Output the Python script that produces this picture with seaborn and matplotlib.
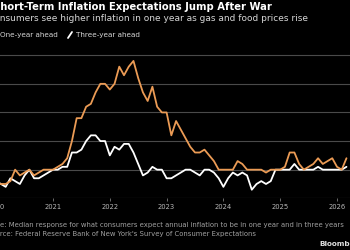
import matplotlib
matplotlib.use("Agg")
import matplotlib.pyplot as plt
from matplotlib.lines import Line2D
import seaborn as sns
import pandas as pd

sns.set_style("dark")

orange = "#eb9b55"
bg = "black"

# monthly survey, Jan 2020 - Mar 2026
months = pd.date_range("2020-01-01", "2026-03-01", freq="MS")

one_year = [
    2.5, 2.5, 2.5, 2.6, 3.0, 2.8, 2.9, 3.0, 2.8, 2.9, 3.0, 3.0,
    3.0, 3.1, 3.2, 3.4, 4.0, 4.8, 4.8, 5.2, 5.3, 5.7, 6.0, 6.0,
    5.8, 6.0, 6.6, 6.3, 6.6, 6.8, 6.2, 5.7, 5.4, 5.9, 5.2, 5.0,
    5.0, 4.2, 4.7, 4.4, 4.1, 3.8, 3.6, 3.6, 3.7, 3.5, 3.3, 3.0,
    3.0, 3.0, 3.0, 3.3, 3.2, 3.0, 3.0, 3.0, 3.0, 2.9, 3.0, 3.0,
    3.0, 3.1, 3.6, 3.6, 3.2, 3.0, 3.1, 3.2, 3.4, 3.2, 3.3, 3.4,
    3.1, 3.0, 3.4,
]
three_year = [
    2.6, 2.5, 2.4, 2.7, 2.6, 2.5, 2.8, 3.0, 2.7, 2.7, 2.8, 2.9,
    3.0, 3.0, 3.1, 3.1, 3.6, 3.6, 3.7, 4.0, 4.2, 4.2, 4.0, 4.0,
    3.5, 3.8, 3.7, 3.9, 3.9, 3.6, 3.2, 2.8, 2.9, 3.1, 3.0, 3.0,
    2.7, 2.7, 2.8, 2.9, 3.0, 3.0, 2.9, 2.8, 3.0, 3.0, 2.9, 2.7,
    2.4, 2.7, 2.9, 2.8, 2.9, 2.8, 2.3, 2.5, 2.6, 2.5, 2.6, 3.0,
    3.0, 3.0, 3.0, 3.2, 3.0, 3.0, 3.0, 3.0, 3.1, 3.0, 3.0, 3.0,
    3.0, 3.0, 3.1,
]
years = [2020, 2021, 2022, 2023, 2024, 2025, 2026]
grid_levels = [2, 3, 4, 5, 6, 7]

t = list(months.year + (months.month - 1) / 12)
df = pd.DataFrame({
    "t": t * 2,
    "value": one_year + three_year,
    "series": ["One-year ahead"] * len(t) + ["Three-year ahead"] * len(t),
})

W, H = 350, 250
fig = plt.figure(figsize=(W / 100, H / 100), dpi=100, facecolor=bg)

# axes runs past both edges of the picture, like the cropped original
ax = fig.add_axes([-30 / W, (H - 198.3) / H, 410 / W, 150.25 / H])
ax.set_facecolor(bg)
sns.lineplot(data=df, x="t", y="value", hue="series",
             hue_order=["Three-year ahead", "One-year ahead"],
             palette={"One-year ahead": orange, "Three-year ahead": "white"},
             linewidth=1.3, legend=False, ax=ax)

px_per_year = 56.8
ax.set_xlim(2021 - 83 / px_per_year, 2021 + 327 / px_per_year)
ax.set_ylim(2, 7.25)
ax.set_yticks(grid_levels)
ax.set_xticks(years)
ax.set_xticklabels([str(y) for y in years])
ax.grid(False)
for lv in grid_levels:
    ax.axhline(lv, color="#4a4a4a", lw=0.8, zorder=0)
for s in ax.spines.values():
    s.set_visible(False)
ax.tick_params(axis="x", length=2.5, width=0.6, color="#7a7a7a", pad=1.5,
               labelsize=4.9, labelcolor="#b8b8b8", bottom=True)
ax.tick_params(axis="y", left=False, labelleft=False)
ax.set_xlabel("")
ax.set_ylabel("")

renderer = fig.canvas.get_renderer()


def cut_left(text, prefix, y_px, **kw):
    probe = fig.text(0, 0, prefix, **kw)
    w = probe.get_window_extent(renderer).width
    probe.remove()
    fig.text(-w / W, 1 - y_px / H, text, ha="left", va="center", **kw)


cut_left("Short-Term Inflation Expectations Jump After War", "S", 6.5,
         fontsize=7.2, fontweight="bold", color="white")
cut_left("Consumers see higher inflation in one year as gas and food prices rise",
         "Co", 18.3, fontsize=6.5, color="#d6d6d6")
cut_left("Note: Median response for what consumers expect annual inflation to be "
         "in one year and in three years", "Not", 225, fontsize=4.95, color="#a0a0a0")
cut_left("Source: Federal Reserve Bank of New York's Survey of Consumer Expectations",
         "Sou", 234, fontsize=4.95, color="#a0a0a0")

probe = fig.text(0, 0, "erg", fontsize=5.2, fontweight="bold")
w_erg = probe.get_window_extent(renderer).width
probe.remove()
fig.text(1 + w_erg / W, 1 - 244 / H, "Bloomberg", ha="right", va="center",
         fontsize=5.2, fontweight="bold", color="#e0e0e0")

# legend: slash keys placed by hand, first one falls off the left edge
leg_y = 1 - 35 / H
for x_px, col in [(-6, orange), (70, "white")]:
    fig.add_artist(Line2D([(x_px - 2) / W, (x_px + 2) / W],
                          [leg_y - 3 / H, leg_y + 3 / H],
                          color=col, lw=1.3, transform=fig.transFigure))
fig.text(0, leg_y, "One-year ahead", ha="left", va="center",
         fontsize=5.2, color="#d6d6d6")
fig.text(76 / W, leg_y, "Three-year ahead", ha="left", va="center",
         fontsize=5.2, color="#d6d6d6")

fig.savefig("out.png", dpi=100, facecolor=bg)
